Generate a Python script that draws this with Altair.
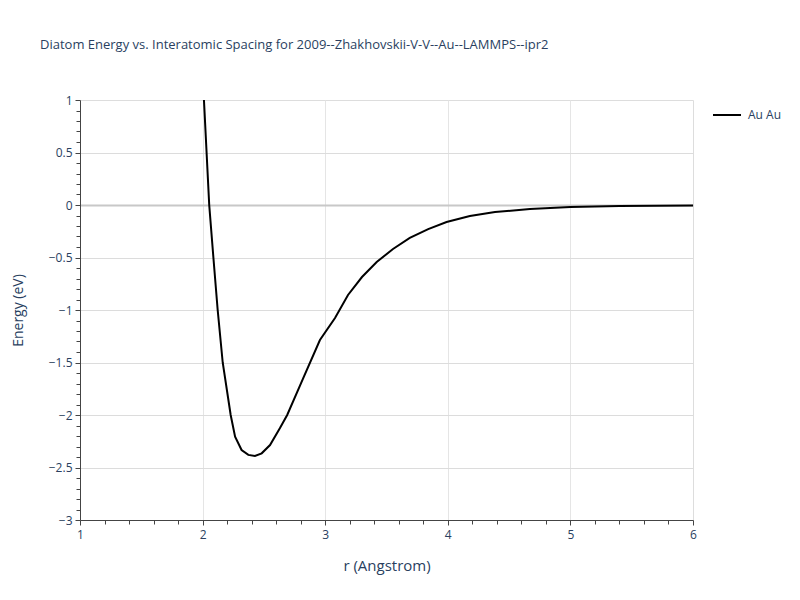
import altair as alt
import pandas as pd

# curve (r in Angstrom, energy in eV)
r_vals = [2.011, 2.054, 2.088, 2.123, 2.164, 2.229, 2.265, 2.318, 2.373, 2.427,
          2.482, 2.55, 2.63, 2.69, 2.82, 2.957, 3.08, 3.186, 3.30, 3.42,
          3.553, 3.69, 3.84, 3.99, 4.18, 4.385, 4.67, 5.0, 5.4, 6.0]
e_vals = [1.0, 0.0, -0.5, -1.0, -1.5, -2.0, -2.207, -2.333, -2.38, -2.39,
          -2.365, -2.286, -2.127, -2.0, -1.652, -1.286, -1.076, -0.857, -0.686, -0.543,
          -0.419, -0.314, -0.229, -0.162, -0.105, -0.067, -0.038, -0.019, -0.01, -0.005]
series_name = "Au Au"

x_ticks = [round(1 + 0.2 * i, 1) for i in range(26)]
y_ticks = [round(-3 + 0.1 * i, 1) for i in range(41)]

df = pd.DataFrame({"r": r_vals, "E": e_vals, "s": [series_name] * len(r_vals)})

FONT = "Open Sans"
TXT = "#2a3f5f"

x_major = "abs(datum.value - round(datum.value)) < 1e-6"
y_major = "abs(datum.value*2 - round(datum.value*2)) < 1e-6"
y_zero = "abs(datum.value) < 1e-6"

chart = alt.Chart(df).mark_line(color="black", strokeWidth=2).encode(
    x=alt.X("r:Q", title="r (Angstrom)",
            scale=alt.Scale(domain=[1, 6], nice=False, zero=False),
            axis=alt.Axis(values=x_ticks, format="~g",
                          labelExpr=f"{x_major} ? datum.label : ''",
                          grid=True,
                          gridColor="#e5e5e5",
                          gridOpacity={"condition": {"test": f"{x_major} && datum.value > 1.5 && datum.value < 5.5", "value": 1}, "value": 0},
                          tickSize={"condition": {"test": x_major, "value": 5}, "value": 4},
                          tickColor="#444", domainColor="#444", domainWidth=1,
                          labelFont=FONT, labelFontSize=12, labelColor=TXT, labelPadding=4,
                          titleFont=FONT, titleFontSize=15, titleFontWeight="normal",
                          titleColor=TXT, titlePadding=18, labelFlush=False)),
    y=alt.Y("E:Q", title="Energy (eV)",
            scale=alt.Scale(domain=[-3, 1], nice=False, zero=False),
            axis=alt.Axis(values=y_ticks, format="~g",
                          labelExpr=f"{y_major} ? datum.label : ''",
                          grid=True,
                          gridColor={"condition": {"test": y_zero, "value": "#c8c8c8"}, "value": "#dcdcdc"},
                          gridWidth={"condition": {"test": y_zero, "value": 2}, "value": 1},
                          gridOpacity={"condition": {"test": f"{y_major} && datum.value > -2.9 && datum.value < 0.9", "value": 1}, "value": 0},
                          tickSize={"condition": {"test": y_major, "value": 5}, "value": 4},
                          tickColor="#444", domainColor="#444", domainWidth=1,
                          labelFont=FONT, labelFontSize=12, labelColor=TXT, labelPadding=3,
                          titleFont=FONT, titleFontSize=14, titleFontWeight="normal",
                          titleColor=TXT, titlePadding=23, labelFlush=False)),
    color=alt.Color("s:N", scale=alt.Scale(range=["black"]),
                    legend=alt.Legend(title=None, orient="none", legendX=632, legendY=0,
                                      symbolType="stroke", symbolSize=784,
                                      symbolStrokeWidth=2, symbolStrokeColor="black",
                                      labelFont=FONT, labelFontSize=12, labelColor=TXT,
                                      labelOffset=6, padding=0)),
).properties(
    width=613, height=420,
    title=alt.TitleParams(
        "Diatom Energy vs. Interatomic Spacing for 2009--Zhakhovskii-V-V--Au--LAMMPS--ipr2",
        anchor="start", frame="group", dx=-40, offset=42,
        font=FONT, fontSize=13, fontWeight="normal", color=TXT),
    autosize=alt.AutoSizeParams(type="none"),
    padding={"left": 72, "top": 92, "right": 99, "bottom": 70},
).configure_view(stroke=None).configure(background="white")

chart.save("out.html", embed_options={"renderer": "svg", "actions": False})
